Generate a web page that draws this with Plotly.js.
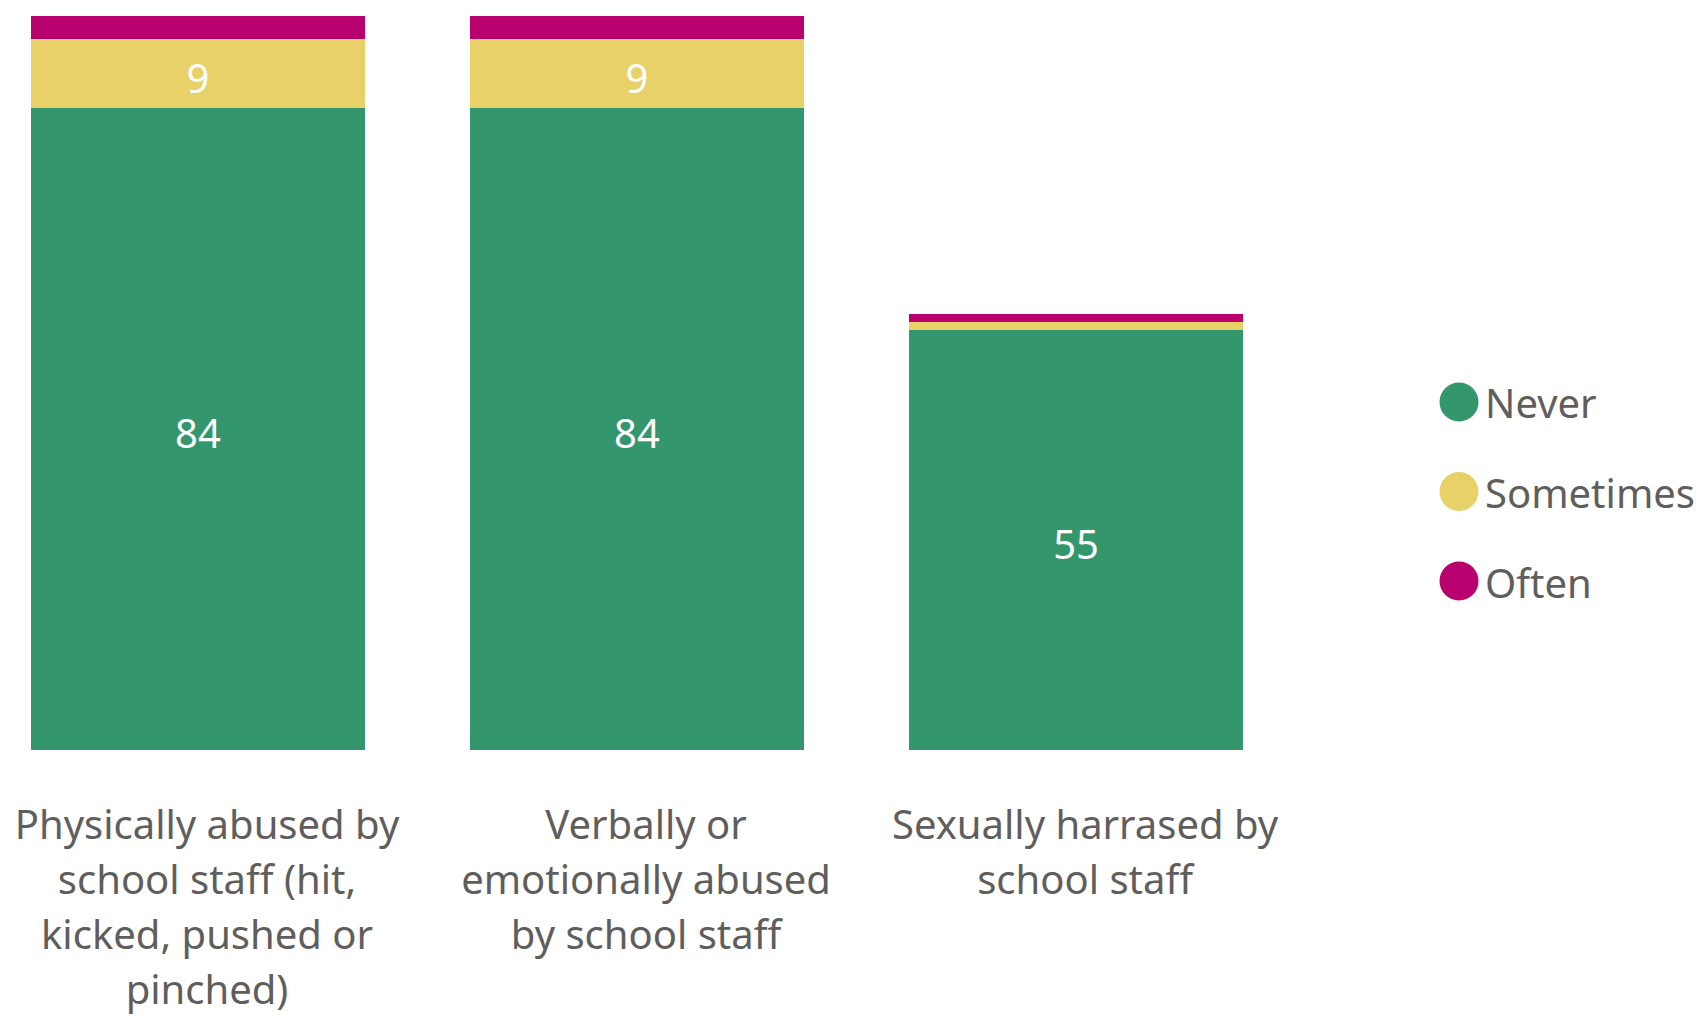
<!DOCTYPE html>
<html>
<head>
<meta charset="utf-8">
<script src="https://cdn.plot.ly/plotly-3.0.1.min.js"></script>
<style>html,body{margin:0;padding:0;background:#fff;}#chart{width:1706px;height:1020px;}</style>
</head>
<body>
<div id="chart"></div>
<script>
// ---- data ----
const categories = [
  "Physically abused by<br>school staff (hit,<br>kicked, pushed or<br>pinched)",
  "Verbally or<br>emotionally abused<br>by school staff",
  "Sexually harrased by<br>school staff"
];
const seriesNames = ["Never", "Sometimes", "Often"];
const neverVals = [84, 84, 55];
const sometimesVals = [9, 9, 1];
const oftenVals = [3, 3, 1];
const seriesColors = ["#34966C", "#E8D168", "#B8006F"];

const seriesVals = [neverVals, sometimesVals, oftenVals];
const FONT = "'Segoe UI', 'Noto Sans', 'Open Sans', sans-serif";
const GREY = "#605E5C";

const traces = seriesVals.map((vals, i) => ({
  type: "bar",
  name: seriesNames[i],
  x: categories,
  y: vals,
  marker: {color: seriesColors[i]},
  text: vals.map(v => v >= 5 ? String(v) : ""),
  texttemplate: "%{text}",
  textposition: "inside",
  insidetextanchor: "middle",
  constraintext: "none",
  textfont: {family: FONT, size: 40, color: "#ffffff"},
  hoverinfo: "x+y+name",
  showlegend: false
}));

// manual legend (large circle markers), built from the series arrays
const W = 1706, H = 1020;
const mL = 0, mR = 406, mT = 0, mB = 270;
const plotW = W - mL - mR, plotH = H - mT - mB;
const legCx = 1459, legTop = 402, legStep = 89.5, legR = 19.5, legTextX = 1483;
const shapes = [], annotations = [];
seriesNames.forEach((name, i) => {
  const cy = legTop + i * legStep;
  const py = (plotH - (cy - mT)) / plotH;
  shapes.push({
    type: "circle", xref: "paper", yref: "paper",
    xsizemode: "pixel", ysizemode: "pixel",
    xanchor: (legCx - mL) / plotW, yanchor: py,
    x0: -legR, x1: legR, y0: -legR, y1: legR,
    fillcolor: seriesColors[i], line: {width: 0}
  });
  annotations.push({
    xref: "paper", yref: "paper",
    x: (legTextX - mL) / plotW, y: py - (i > 0 ? 1 / plotH : 0),
    xanchor: "left", yanchor: "middle",
    text: name, showarrow: false,
    font: {family: FONT, size: 40, color: GREY}
  });
});

const layout = {
  width: W, height: H,
  margin: {l: mL, r: mR, t: mT, b: mB, pad: 0},
  paper_bgcolor: "#ffffff",
  plot_bgcolor: "#ffffff",
  barmode: "stack",
  bargap: 0.24,
  showlegend: false,
  font: {family: FONT, color: GREY},
  xaxis: {
    type: "category",
    range: [-0.451, 2.510],
    showgrid: false, zeroline: false, showline: false,
    ticks: "",
    ticklabelstandoff: 48,
    tickfont: {family: FONT, size: 40, color: GREY}
  },
  yaxis: {
    range: [0, 98.1],
    visible: false,
    showgrid: false, zeroline: false
  },
  shapes: shapes,
  annotations: annotations
};

Plotly.newPlot("chart", traces, layout, {displayModeBar: false, staticPlot: true}).then(gd => {
  // wider line spacing for the multi-line category labels (1.3em -> 1.375em per line)
  gd.querySelectorAll(".xtick text tspan.line").forEach(t => {
    const dy = parseFloat(t.getAttribute("dy"));
    if (!isNaN(dy) && dy > 0) {
      const n = Math.round(dy / 1.3);
      t.setAttribute("dy", (n * 1.375) + "em");
    }
  });
  // category labels sit slightly right of the bar centres in the reference
  const xl = gd.querySelector(".xaxislayer-above");
  if (xl) xl.setAttribute("transform", ((xl.getAttribute("transform") || "") + " translate(9,0)").trim());
  // nudge the white value labels slightly down, as in the reference
  gd.querySelectorAll(".barlayer .bartext").forEach(t => {
    t.setAttribute("transform", ((t.getAttribute("transform") || "") + " translate(0,4)").trim());
  });
});
</script>
</body>
</html>
